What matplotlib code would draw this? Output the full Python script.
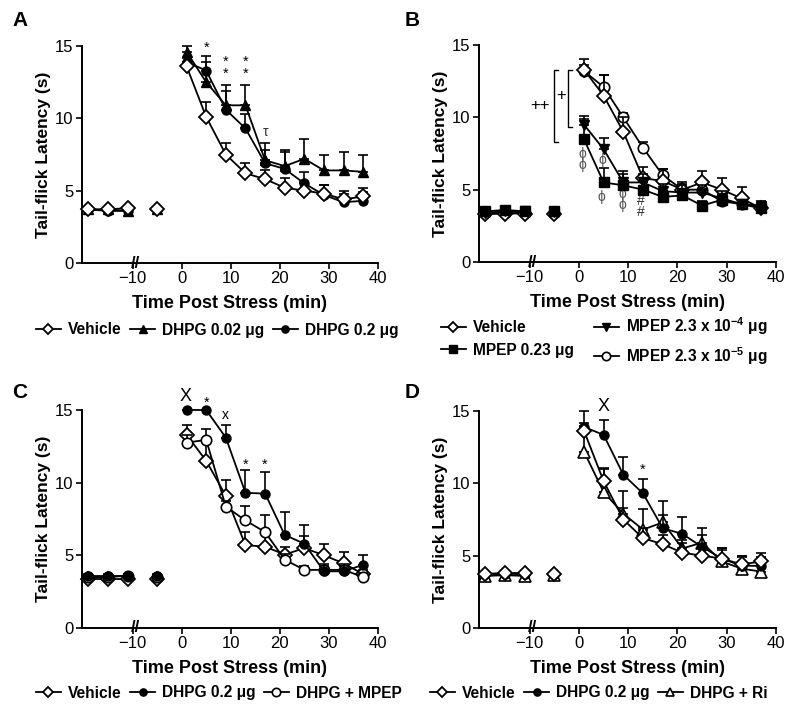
import numpy as np
import matplotlib.pyplot as plt
from matplotlib.lines import Line2D

plt.rcParams['font.family'] = ['Liberation Sans', 'DejaVu Sans']
plt.rcParams['mathtext.default'] = 'regular'

# sampling times (min); three baseline readings, one pre-stress, ten post-stress
times = [-19, -15, -11, -5, 1, 5, 9, 13, 17, 21, 25, 29, 33, 37]
segments = [(0, 3), (3, 4), (4, 14)]

# Panel A
veh_a = [3.7, 3.7, 3.8, 3.7, 13.6, 10.1, 7.5, 6.2, 5.8, 5.2, 5.0, 4.8, 4.4, 4.6]
veh_a_err = [0.1, 0.1, 0.1, 0.1, 0.3, 1.0, 0.8, 0.7, 0.6, 0.7, 0.6, 0.6, 0.6, 0.6]
dhpg002_a = [3.7, 3.7, 3.6, 3.7, 14.6, 12.5, 10.9, 10.9, 7.1, 6.7, 7.2, 6.4, 6.4, 6.3]
dhpg002_a_err = [0.1, 0.1, 0.1, 0.1, 0.4, 1.4, 1.4, 1.4, 1.2, 1.1, 1.4, 1.1, 1.3, 1.2]
dhpg02_a = [3.7, 3.6, 3.6, 3.7, 13.9, 13.3, 10.6, 9.3, 6.9, 6.5, 5.5, 4.7, 4.2, 4.3]
dhpg02_a_err = [0.1, 0.1, 0.1, 0.1, 0.3, 1.0, 1.3, 1.0, 0.9, 1.2, 0.8, 0.7, 0.6, 0.6]

# Panel B
veh_b = [3.3, 3.35, 3.35, 3.35, 13.3, 11.5, 9.0, 5.8, 5.6, 5.0, 5.5, 5.0, 4.4, 3.7]
veh_b_err = [0.1, 0.1, 0.1, 0.1, 0.7, 1.4, 1.0, 0.8, 0.8, 0.5, 0.8, 0.8, 0.8, 0.3]
mpep023_b = [3.5, 3.6, 3.5, 3.5, 8.5, 5.5, 5.3, 5.0, 4.5, 4.6, 3.9, 4.3, 4.0, 3.7]
mpep023_b_err = [0.1, 0.1, 0.1, 0.1, 1.4, 1.0, 0.8, 0.5, 0.4, 0.4, 0.3, 0.4, 0.3, 0.3]
mpep4_b = [3.4, 3.5, 3.5, 3.45, 9.5, 7.8, 5.5, 5.5, 4.9, 4.8, 4.8, 4.4, 4.0, 3.9]
mpep4_b_err = [0.1, 0.1, 0.1, 0.1, 0.6, 0.8, 0.8, 0.6, 0.5, 0.5, 0.5, 0.5, 0.3, 0.3]
mpep5_b = [3.4, 3.4, 3.4, 3.4, 13.2, 12.1, 10.0, 7.9, 6.0, 5.0, 5.0, 4.2, 4.0, 3.8]
mpep5_b_err = [0.1, 0.1, 0.1, 0.1, 0.4, 0.8, 0.3, 0.4, 0.4, 0.4, 0.4, 0.4, 0.3, 0.3]

# Panel C
veh_c = [3.35, 3.35, 3.35, 3.4, 13.3, 11.5, 9.1, 5.7, 5.6, 5.05, 5.5, 5.0, 4.45, 3.7]
veh_c_err = [0.1, 0.1, 0.1, 0.1, 0.7, 1.3, 1.1, 0.9, 0.9, 0.5, 0.8, 0.8, 0.8, 0.3]
dhpg_c = [3.6, 3.6, 3.6, 3.6, 15.0, 15.0, 13.1, 9.3, 9.25, 6.4, 5.8, 3.9, 3.9, 4.35]
dhpg_c_err = [0.1, 0.1, 0.1, 0.1, 0.0, 0.0, 0.9, 1.6, 1.45, 1.6, 1.3, 0.5, 0.5, 0.65]
mpep_c = [3.5, 3.5, 3.6, 3.5, 12.75, 12.95, 8.35, 7.4, 6.6, 4.7, 4.0, 4.0, 4.0, 3.5]
mpep_c_err = [0.1, 0.1, 0.1, 0.1, 0.5, 0.75, 0.4, 1.0, 1.2, 0.4, 0.3, 0.3, 0.3, 0.3]

# Panel D
veh_d = [3.75, 3.8, 3.8, 3.75, 13.65, 10.15, 7.5, 6.2, 5.8, 5.2, 5.0, 4.8, 4.4, 4.6]
veh_d_err = [0.1, 0.1, 0.1, 0.1, 0.3, 0.9, 0.8, 0.7, 0.6, 0.7, 0.6, 0.6, 0.6, 0.6]
dhpg_d = [3.7, 3.7, 3.7, 3.7, 13.9, 13.35, 10.6, 9.3, 6.9, 6.5, 5.6, 4.8, 4.3, 4.3]
dhpg_d_err = [0.1, 0.1, 0.1, 0.1, 1.1, 1.0, 1.2, 1.0, 0.9, 1.2, 0.8, 0.7, 0.6, 0.6]
ri_d = [3.6, 3.65, 3.6, 3.65, 12.2, 9.4, 7.9, 6.8, 7.3, 5.5, 5.9, 4.6, 4.1, 3.9]
ri_d_err = [0.1, 0.1, 0.1, 0.1, 2.0, 1.6, 1.6, 1.4, 1.5, 0.6, 1.0, 0.9, 0.9, 0.5]

# significance marks: (x, y, text, size, colour)
marks_a = [(5, 14.9, '*', 10.5, 'k'), (9, 13.5, '*\n*', 10.5, 'k'),
           (13, 13.5, '*\n*', 10.5, 'k'), (17, 9.05, 'τ', 10, '#333333')]
marks_b = [(-8.0, 10.8, '++', 12, 'k'), (-3.6, 11.5, '+', 12, 'k'),
           (0.8, 7.1, 'ϕ\nϕ', 10, '#555555'),
           (4.8, 7.05, 'ϕ', 10, '#555555'), (4.6, 4.5, 'ϕ', 10, '#555555'),
           (8.9, 4.3, 'ϕ\nϕ', 10, '#555555'),
           (12.6, 3.85, '#\n#', 10, '#333333')]
brackets_b = [(-5.1, 13.3, 8.3), (-2.3, 13.3, 9.35)]
marks_c = [(0.8, 15.95, 'X', 13, 'k'), (5, 15.5, '*', 10.5, 'k'), (9, 14.65, 'x', 10, 'k'),
           (13, 11.2, '*', 10.5, 'k'), (17, 11.2, '*', 10.5, 'k')]
marks_d = [(5, 15.3, 'X', 13, 'k'), (13, 10.95, '*', 10.5, 'k')]

styles = {
    'veh': dict(marker='D', ms=7, mfc='white', mec='k', mew=1.3),
    'tri': dict(marker='^', ms=7, mfc='k', mec='k'),
    'dot': dict(marker='o', ms=6.5, mfc='k', mec='k'),
    'sq': dict(marker='s', ms=6.5, mfc='k', mec='k'),
    'vtri': dict(marker='v', ms=7, mfc='k', mec='k'),
    'ocir': dict(marker='o', ms=7.5, mfc='white', mec='k', mew=1.2),
    'otri': dict(marker='^', ms=8, mfc='white', mec='k', mew=1.2),
}

W, H = 800, 715
fig = plt.figure(figsize=(8, 7.15), dpi=100)


def make_axes(left, right, top, bottom):
    return fig.add_axes([left / W, 1 - bottom / H, (right - left) / W, (bottom - top) / H])


def draw_series(ax, vals, errs, key, z):
    vals = np.array(vals)
    errs = np.array(errs)
    ax.errorbar(times, vals, yerr=[np.zeros_like(errs), errs], fmt='none', ecolor='k',
                elinewidth=1.2, capsize=3.7, capthick=1.2, zorder=z, clip_on=False)
    for a, b in segments:
        ax.plot(times[a:b], vals[a:b], color='k', lw=1.3, zorder=z + 0.5,
                clip_on=False, **styles[key])


def style_axes(ax, letter, lx, ly):
    ax.set_xlim(-20.3, 40)
    ax.set_ylim(0, 15)
    ax.set_xticks([-10, 0, 10, 20, 30, 40])
    ax.set_yticks([0, 5, 10, 15])
    for s in ['top', 'right']:
        ax.spines[s].set_visible(False)
    for s in ['left', 'bottom']:
        ax.spines[s].set_linewidth(1.4)
    ax.tick_params(axis='both', direction='out', length=4, width=1.2, labelsize=12, pad=2)
    ax.set_ylabel('Tail-flick Latency (s)', fontsize=12.5, fontweight='bold', labelpad=3)
    ax.set_xlabel('Time Post Stress (min)', fontsize=13, fontweight='bold', labelpad=6)
    ax.text(-9.4, 0, '//', fontsize=12, fontweight='bold', ha='center', va='center',
            zorder=10, clip_on=False)
    fig.text(lx / W, 1 - ly / H, letter, fontsize=15, fontweight='bold', ha='center', va='center')


def draw_marks(ax, marks):
    for x, y, t, size, c in marks:
        ax.text(x, y, t, fontsize=size, color=c, ha='center', va='center',
                linespacing=0.75, clip_on=False)


def legend_handle(key):
    return Line2D([], [], color='k', lw=1.3, **styles[key])


leg_kw = dict(frameon=False, handlelength=1.6, handletextpad=0.45, borderaxespad=0, borderpad=0,
              markerscale=0.8, prop=dict(weight='bold', size=11.2), loc='center left',
              bbox_transform=fig.transFigure)

# A
ax = make_axes(82, 378, 46, 263)
draw_series(ax, dhpg002_a, dhpg002_a_err, 'tri', 2)
draw_series(ax, dhpg02_a, dhpg02_a_err, 'dot', 3)
draw_series(ax, veh_a, veh_a_err, 'veh', 4)
draw_marks(ax, marks_a)
style_axes(ax, 'A', 20, 20)
ax.legend([legend_handle('veh'), legend_handle('tri'), legend_handle('dot')],
          ['Vehicle', 'DHPG 0.02 μg', 'DHPG 0.2 μg'], ncol=3, columnspacing=0.55,
          bbox_to_anchor=(36 / W, 1 - 330 / H), **leg_kw)

# B
ax = make_axes(479, 776, 45, 262)
draw_series(ax, mpep5_b, mpep5_b_err, 'ocir', 2)
draw_series(ax, veh_b, veh_b_err, 'veh', 3)
draw_series(ax, mpep4_b, mpep4_b_err, 'vtri', 4)
draw_series(ax, mpep023_b, mpep023_b_err, 'sq', 5)
draw_marks(ax, marks_b)
for bx, top, bot in brackets_b:
    ax.plot([bx + 0.8, bx, bx, bx + 0.8], [top, top, bot, bot], color='k', lw=1.0,
            clip_on=False)
style_axes(ax, 'B', 412, 20)
ax.legend([legend_handle('veh'), legend_handle('sq'), legend_handle('vtri'), legend_handle('ocir')],
          ['Vehicle', 'MPEP 0.23 μg', 'MPEP 2.3 x 10$^{-4}$ μg', 'MPEP 2.3 x 10$^{-5}$ μg'],
          ncol=2, columnspacing=1.3, labelspacing=0.5,
          bbox_to_anchor=(441 / W, 1 - 341 / H), **leg_kw)

# C
ax = make_axes(82, 378, 410, 628)
draw_series(ax, veh_c, veh_c_err, 'veh', 2)
draw_series(ax, mpep_c, mpep_c_err, 'ocir', 3)
draw_series(ax, dhpg_c, dhpg_c_err, 'dot', 4)
draw_marks(ax, marks_c)
style_axes(ax, 'C', 20, 392)
ax.legend([legend_handle('veh'), legend_handle('dot'), legend_handle('ocir')],
          ['Vehicle', 'DHPG 0.2 μg', 'DHPG + MPEP'], ncol=3, columnspacing=0.55,
          bbox_to_anchor=(36 / W, 1 - 693 / H), **leg_kw)

# D
ax = make_axes(479, 776, 411, 628)
draw_series(ax, ri_d, ri_d_err, 'otri', 2)
draw_series(ax, dhpg_d, dhpg_d_err, 'dot', 3)
draw_series(ax, veh_d, veh_d_err, 'veh', 4)
draw_marks(ax, marks_d)
style_axes(ax, 'D', 412, 392)
ax.legend([legend_handle('veh'), legend_handle('dot'), legend_handle('otri')],
          ['Vehicle', 'DHPG 0.2 μg', 'DHPG + Ri'], ncol=3, columnspacing=0.55,
          bbox_to_anchor=(430 / W, 1 - 693 / H), **leg_kw)

fig.savefig('out.png', dpi=100)
